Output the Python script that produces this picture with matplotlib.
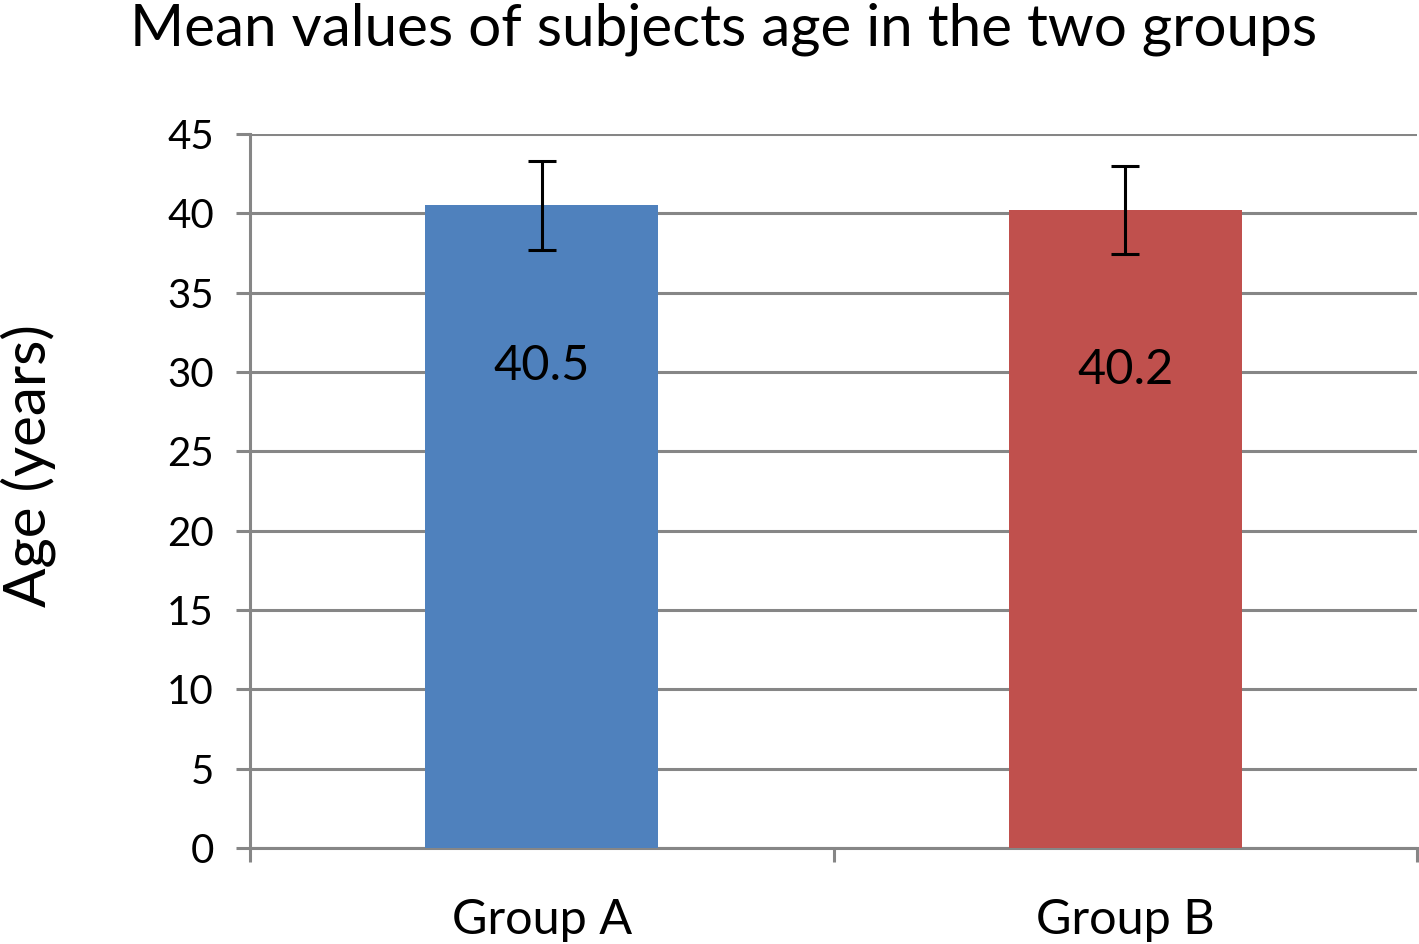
import matplotlib
matplotlib.use("Agg")
import matplotlib.pyplot as plt
import numpy as np

groups = ["Group A", "Group B"]
mean_age = [40.5, 40.2]
sd_age = [2.8, 2.8]
bar_colors = ["#4F81BD", "#C0504D"]
y_ticks = list(range(0, 50, 5))

plt.rcParams["font.family"] = ["Lato", "DejaVu Sans"]

fig = plt.figure(figsize=(14.19, 9.44), dpi=100)
ax = fig.add_axes([0.1762, 0.1017, 0.8224, 0.7565])

x = np.arange(len(groups))
ax.bar(x, mean_age, width=0.4, color=bar_colors, zorder=3)
ax.errorbar(x, mean_age, yerr=sd_age, fmt="none", ecolor="black",
            elinewidth=2.2, capsize=10, capthick=2.2, zorder=4)

for xi, v in zip(x, mean_age):
    ax.text(xi, v * 0.75, f"{v}", ha="center", va="center", fontsize=35, zorder=5)

ax.set_xlim(-0.5, len(groups) - 0.5)
ax.set_ylim(0, 45)
ax.set_yticks(y_ticks)
ax.set_yticklabels([str(t) for t in y_ticks], fontsize=29)
ax.grid(axis="y", color="#868686", linewidth=2.2, zorder=0)

ax.set_xticks(x)
ax.set_xticklabels(groups, fontsize=35)
ax.set_xticks(np.arange(len(groups) + 1) - 0.5, minor=True)
ax.tick_params(axis="x", which="major", length=0, pad=36)
ax.tick_params(axis="x", which="minor", length=10, width=2.2, color="#868686", direction="out")
ax.tick_params(axis="y", length=10, width=2.2, color="#868686", pad=16)

for side in ["top", "right"]:
    ax.spines[side].set_visible(False)
for side in ["left", "bottom"]:
    ax.spines[side].set_color("#868686")
    ax.spines[side].set_linewidth(2.2)

ax.set_ylabel("Age (years)", fontsize=42)
ax.yaxis.set_label_coords(-0.166, 0.535)
fig.suptitle("Mean values of subjects age in the two groups", fontsize=42, x=0.51, y=0.997)

fig.savefig("out.png", dpi=100)
